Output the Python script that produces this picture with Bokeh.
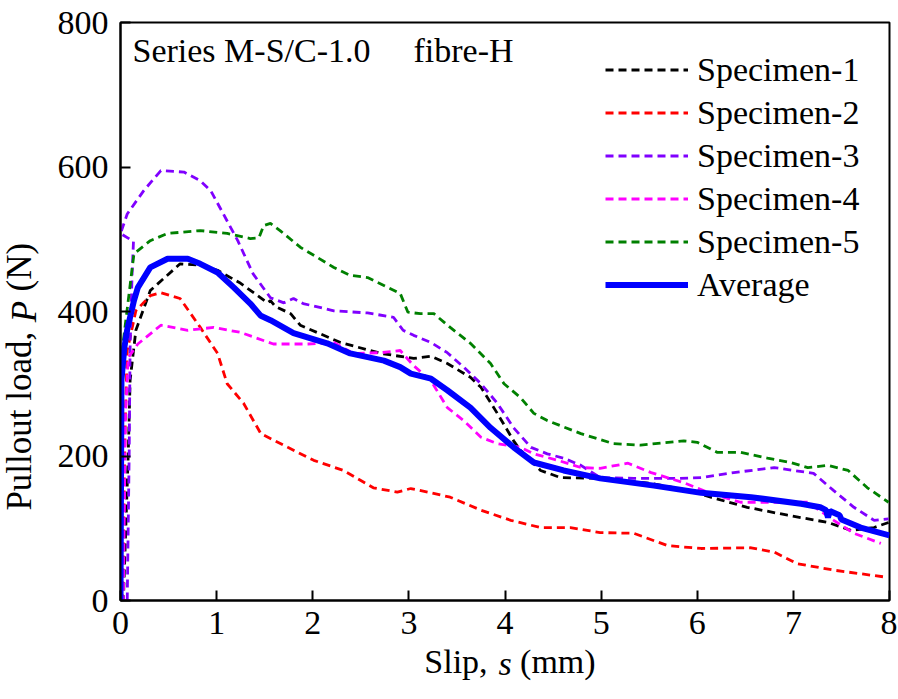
import math
from bokeh.plotting import figure
from bokeh.models import Range1d, FixedTicker, Legend, LegendItem, Label, LinearAxis
from bokeh.embed import file_html
from bokeh.resources import INLINE

# ---- data: slip s (mm), pullout load P (N) ----
spec1_s = [0.0, 0.03, 0.08, 0.10, 0.16, 0.31, 0.62, 0.83, 1.01, 1.25, 1.53, 1.56, 1.61, 1.77, 1.87,
           2.29, 2.71, 3.05, 3.23, 3.40, 3.64, 3.75, 3.92, 4.09, 4.16, 4.37, 4.58, 4.99, 5.52, 5.93,
           6.14, 6.52, 6.94, 7.36, 7.60, 7.84, 7.99]
spec1_p = [0, 0, 200, 305, 374, 429, 466, 464, 457, 439, 412, 415, 407, 397, 381,
           357, 342, 335, 338, 328, 309, 295, 259, 221, 208, 180, 170, 169, 162, 152,
           143, 129, 118, 108, 97, 101, 108]

spec2_s = [0.0, 0.02, 0.05, 0.07, 0.16, 0.31, 0.42, 0.62, 0.73, 0.83, 1.01, 1.11, 1.28, 1.46, 1.74,
           2.01, 2.32, 2.63, 2.88, 3.02, 3.23, 3.43, 3.75, 4.06, 4.37, 4.68, 4.99, 5.34, 5.69, 6.04,
           6.56, 6.80, 7.04, 7.42, 7.98]
spec2_p = [0, 0, 250, 346, 401, 422, 426, 418, 397, 378, 342, 300, 273, 231, 212,
           194, 180, 156, 150, 155, 149, 143, 125, 111, 101, 101, 94, 93, 76, 72,
           73, 67, 51, 42, 32]

spec3_s = [0.07, 0.09, 0.10, 0.12, 0.135, 0.0, 0.07, 0.24, 0.42, 0.66, 0.83, 0.94, 1.07, 1.22, 1.38,
           1.56, 1.70, 1.80, 1.90, 2.22, 2.57, 2.84, 2.94, 3.05, 3.23, 3.40, 3.57, 3.75, 3.92, 4.09,
           4.27, 4.44, 4.61, 4.79, 4.99, 5.34, 5.80, 6.04, 6.38, 6.80, 7.21, 7.42, 7.63, 7.84, 7.99]
spec3_p = [0, 200, 350, 450, 497, 508, 535, 567, 595, 593, 581, 567, 535, 498, 452,
           419, 412, 418, 411, 401, 398, 392, 374, 367, 357, 343, 323, 300, 273, 239,
           212, 203, 197, 187, 170, 169, 169, 170, 177, 184, 176, 152, 129, 111, 113]

spec4_s = [0.0, 0.03, 0.05, 0.08, 0.18, 0.42, 0.70, 0.97, 1.25, 1.59, 1.95, 2.22, 2.42, 2.71, 2.91,
           3.05, 3.23, 3.40, 3.57, 3.75, 3.92, 4.16, 4.30, 4.55, 4.79, 4.99, 5.28, 5.52, 5.86, 6.14,
           6.45, 6.80, 7.15, 7.42, 7.63, 7.91]
spec4_p = [0, 0, 250, 336, 355, 381, 374, 378, 371, 355, 355, 357, 342, 343, 346,
           325, 304, 267, 249, 226, 217, 212, 203, 194, 184, 183, 190, 177, 163, 148,
           136, 136, 136, 111, 93, 79]

spec5_s = [0.0, 0.01, 0.03, 0.14, 0.31, 0.49, 0.83, 1.11, 1.35, 1.44, 1.49, 1.56, 1.66, 1.87, 2.22,
           2.39, 2.57, 2.74, 2.91, 2.99, 3.12, 3.26, 3.43, 3.64, 3.85, 3.99, 4.16, 4.30, 4.44, 4.79,
           5.13, 5.41, 5.86, 6.00, 6.21, 6.45, 6.73, 6.97, 7.15, 7.36, 7.57, 7.77, 7.99]
spec5_p = [0, 330, 360, 480, 498, 508, 512, 508, 501, 502, 519, 522, 512, 489, 461,
           450, 447, 436, 425, 399, 397, 397, 378, 356, 328, 300, 281, 259, 249, 231,
           217, 215, 221, 219, 205, 205, 197, 191, 184, 187, 180, 156, 136]

avg_s = [0.0, 0.01, 0.04, 0.07, 0.14, 0.18, 0.31, 0.49, 0.70, 0.83, 1.01, 1.18, 1.35, 1.46, 1.56,
         1.80, 2.15, 2.39, 2.74, 2.91, 3.02, 3.23, 3.40, 3.64, 3.85, 4.09, 4.30, 4.61, 4.99, 5.55,
         6.04, 6.56, 7.08, 7.28, 7.34, 7.36, 7.38, 7.48, 7.50, 7.70, 8.0]
avg_p = [0, 305, 350, 375, 415, 433, 461, 473, 473, 466, 454, 433, 411, 394, 388,
         370, 356, 342, 332, 323, 314, 307, 291, 267, 239, 212, 191, 180, 169, 159,
         149, 143, 134, 129, 125, 115, 124, 118, 112, 101, 90]

series_names = ["Specimen-1", "Specimen-2", "Specimen-3", "Specimen-4", "Specimen-5", "Average"]
series_colors = ["#000000", "#FF0000", "#8000FF", "#FF00FF", "#008000", "#0000FF"]
x_ticks = [0, 1, 2, 3, 4, 5, 6, 7, 8]
y_ticks = [0, 200, 400, 600, 800]

# axis titles, split so that the variable symbol can be set in italics
x_title_parts = {3.49: "Slip,", 4.55: "(mm)"}
x_title_symbol = "s"
y_title_parts = {372: "Pullout load,", 495: "(N)"}
y_title_symbol = "P"

FONT = "Liberation Serif"
FS = "34px"
FS_Y = "35px"

p = figure(frame_width=769, frame_height=578, output_backend="svg", toolbar_location=None,
           x_range=Range1d(0, 8), y_range=Range1d(0, 800),
           min_border_left=120, min_border_right=8, min_border_top=22, min_border_bottom=90)
p.background_fill_color = "white"
p.border_fill_color = "white"
p.outline_line_color = "black"
p.outline_line_width = 2
p.xgrid.visible = False
p.ygrid.visible = False

for ax, ticks in ((p.xaxis[0], x_ticks), (p.yaxis[0], y_ticks)):
    ax.ticker = FixedTicker(ticks=ticks)
    ax.minor_tick_line_color = None
    ax.major_tick_in = 10
    ax.major_tick_out = 0
    ax.major_tick_line_width = 2
    ax.axis_line_width = 2
    ax.major_label_text_font = FONT
    ax.major_label_text_font_size = FS
    ax.major_label_text_color = "black"
p.xaxis[0].major_label_standoff = 11
p.yaxis[0].major_label_standoff = 12

# title axes (no line, no ticks): plain words as labels, italic symbol as axis label
def title_axis(parts, symbol, fs, standoff, orient, back):
    ax = LinearAxis(ticker=FixedTicker(ticks=list(parts.keys())),
                    major_label_overrides=parts,
                    axis_line_color=None, major_tick_line_color=None, minor_tick_line_color=None,
                    major_label_text_font=FONT, major_label_text_font_size=fs,
                    major_label_text_color="black", major_label_standoff=standoff,
                    major_label_orientation=orient,
                    axis_label=symbol, axis_label_text_font=FONT, axis_label_text_font_size=fs,
                    axis_label_text_font_style="italic", axis_label_text_color="black",
                    axis_label_standoff=back)
    return ax

p.add_layout(title_axis(x_title_parts, x_title_symbol, FS, 0, "horizontal", -38), "below")
p.add_layout(title_axis(y_title_parts, y_title_symbol, FS_Y, 29, math.pi / 2, -66), "left")

xs = [spec1_s, spec2_s, spec3_s, spec4_s, spec5_s, avg_s]
ys = [spec1_p, spec2_p, spec3_p, spec4_p, spec5_p, avg_p]
items = []
for i, (sx, sy) in enumerate(zip(xs, ys)):
    if i < 5:
        r = p.line(sx, sy, line_color=series_colors[i], line_width=2.8, line_dash="8 5")
    else:
        r = p.line(sx, sy, line_color=series_colors[i], line_width=6)
    items.append(LegendItem(label=series_names[i], renderers=[r]))

legend = Legend(items=items, location=(485, 295), glyph_width=83, glyph_height=41,
                label_height=41, spacing=2, padding=0, margin=0, label_standoff=9,
                label_text_font=FONT, label_text_font_size=FS, label_text_color="black",
                border_line_color=None, background_fill_alpha=0)
p.add_layout(legend, "center")

def lab(text, x, y):
    p.add_layout(Label(x=x, y=y, x_units="screen", y_units="screen", text=text,
                       text_font=FONT, text_font_size=FS, text_color="black",
                       text_align="left", text_baseline="middle"))

lab("Series M-S/C-1.0", 12, 550)
lab("fibre-H", 293, 550)

open("out.html", "w").write(file_html(p, INLINE))
